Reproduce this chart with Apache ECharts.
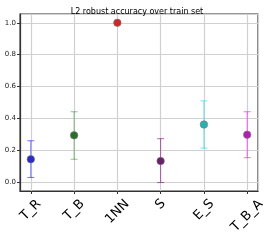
<!DOCTYPE html>
<html>
<head>
<meta charset="utf-8">
<script src="https://cdn.jsdelivr.net/npm/echarts@6/dist/echarts.min.js"></script>
<style>html,body{margin:0;padding:0;background:#fff;}#c{width:274px;height:246px;}</style>
</head>
<body>
<div id="c"></div>
<script>
var categories = ['T_R', 'T_B', '1NN', 'S', 'E_S', 'T_B_A'];
var means = [0.144, 0.294, 1.0, 0.133, 0.362, 0.298];
var lowers = [0.030, 0.144, 1.0, -0.002, 0.214, 0.154];
var uppers = [0.260, 0.442, 1.0, 0.273, 0.510, 0.442];
var yTicks = [0.0, 0.2, 0.4, 0.6, 0.8, 1.0];
var titleText = 'L2 robust accuracy over train set';

var markerColors = ['#2a2ac4', '#2a6e2a', '#cc2a2a', '#6a206a', '#26b0b0', '#b020b0'];
var barColors = ['rgba(0,0,255,0.55)', 'rgba(0,128,0,0.45)', 'rgba(220,0,0,0.6)', 'rgba(128,0,128,0.6)', 'rgba(0,225,225,0.6)', 'rgba(255,0,255,0.6)'];

var FONT = '"DejaVu Sans", sans-serif';
var ctx = document.createElement('canvas').getContext('2d');
ctx.font = '13px "DejaVu Sans"';
var rich = {};
categories.forEach(function (c, i) {
  var L = ctx.measureText(c).width;
  var p = 1.414 * 0.37 * L;
  rich['r' + i] = { fontSize: 13, fontFamily: FONT, color: '#000', padding: [p, p, 0, 0] };
});

var pointData = means.map(function (m, i) {
  return { value: [i, m], itemStyle: { color: markerColors[i] } };
});
var errData = means.map(function (m, i) { return [i, lowers[i], uppers[i]]; });

var chart = echarts.init(document.getElementById('c'), null, { renderer: 'canvas' });
chart.setOption({
  animation: false,
  title: {
    text: titleText, left: 'center', top: 3,
    textStyle: { fontSize: 8, fontWeight: 'normal', color: '#000', fontFamily: FONT }
  },
  grid: { left: 20, right: 16, top: 14, bottom: 55, show: true, borderColor: '#333', borderWidth: 1.2, backgroundColor: 'transparent' },
  xAxis: {
    type: 'value', min: -0.25, max: 5.25, splitNumber: 5,
    axisLine: { show: true, onZero: false, lineStyle: { color: '#333', width: 1.2 } },
    axisTick: { show: true, length: 3, lineStyle: { color: '#333' } },
    splitLine: { show: true, lineStyle: { color: '#d0d0d0', width: 1.2 } },
    axisLabel: {
      rotate: 45, align: 'center', verticalAlign: 'middle', margin: 10.5,
      showMinLabel: false, showMaxLabel: false, rich: rich,
      formatter: function (v) {
        var i = Math.round(v);
        if (Math.abs(v - i) > 1e-6 || i < 0 || i >= categories.length) return '';
        return '{r' + i + '|' + categories[i] + '}';
      }
    }
  },
  yAxis: {
    type: 'value', min: -0.055, max: 1.055, splitNumber: 5,
    axisLine: { show: true, onZero: false, lineStyle: { color: '#333', width: 1.2 } },
    axisTick: { show: true, length: 3, lineStyle: { color: '#333' } },
    splitLine: { show: true, lineStyle: { color: '#d0d0d0', width: 1.2 } },
    axisLabel: {
      fontSize: 7, color: '#222', fontFamily: FONT, margin: 4,
      showMinLabel: false, showMaxLabel: false,
      formatter: function (v) {
        for (var k = 0; k < yTicks.length; k++) {
          if (Math.abs(v - yTicks[k]) < 1e-6) return yTicks[k].toFixed(1);
        }
        return '';
      }
    }
  },
  series: [
    {
      type: 'custom',
      data: errData,
      z: 2,
      renderItem: function (params, api) {
        var i = api.value(0);
        var lo = api.coord([i, api.value(1)]);
        var hi = api.coord([i, api.value(2)]);
        var c = barColors[params.dataIndex];
        var cap = 3.5;
        var st = { stroke: c, lineWidth: 1 };
        return {
          type: 'group',
          children: [
            { type: 'line', shape: { x1: lo[0], y1: lo[1], x2: hi[0], y2: hi[1] }, style: st },
            { type: 'line', shape: { x1: lo[0] - cap, y1: lo[1], x2: lo[0] + cap, y2: lo[1] }, style: st },
            { type: 'line', shape: { x1: hi[0] - cap, y1: hi[1], x2: hi[0] + cap, y2: hi[1] }, style: st }
          ]
        };
      }
    },
    {
      type: 'scatter',
      data: pointData,
      symbol: 'circle',
      symbolSize: 7.5,
      z: 3,
      itemStyle: { borderColor: 'rgba(120,120,120,0.6)', borderWidth: 1, opacity: 1 }
    }
  ]
});
</script>
</body>
</html>
